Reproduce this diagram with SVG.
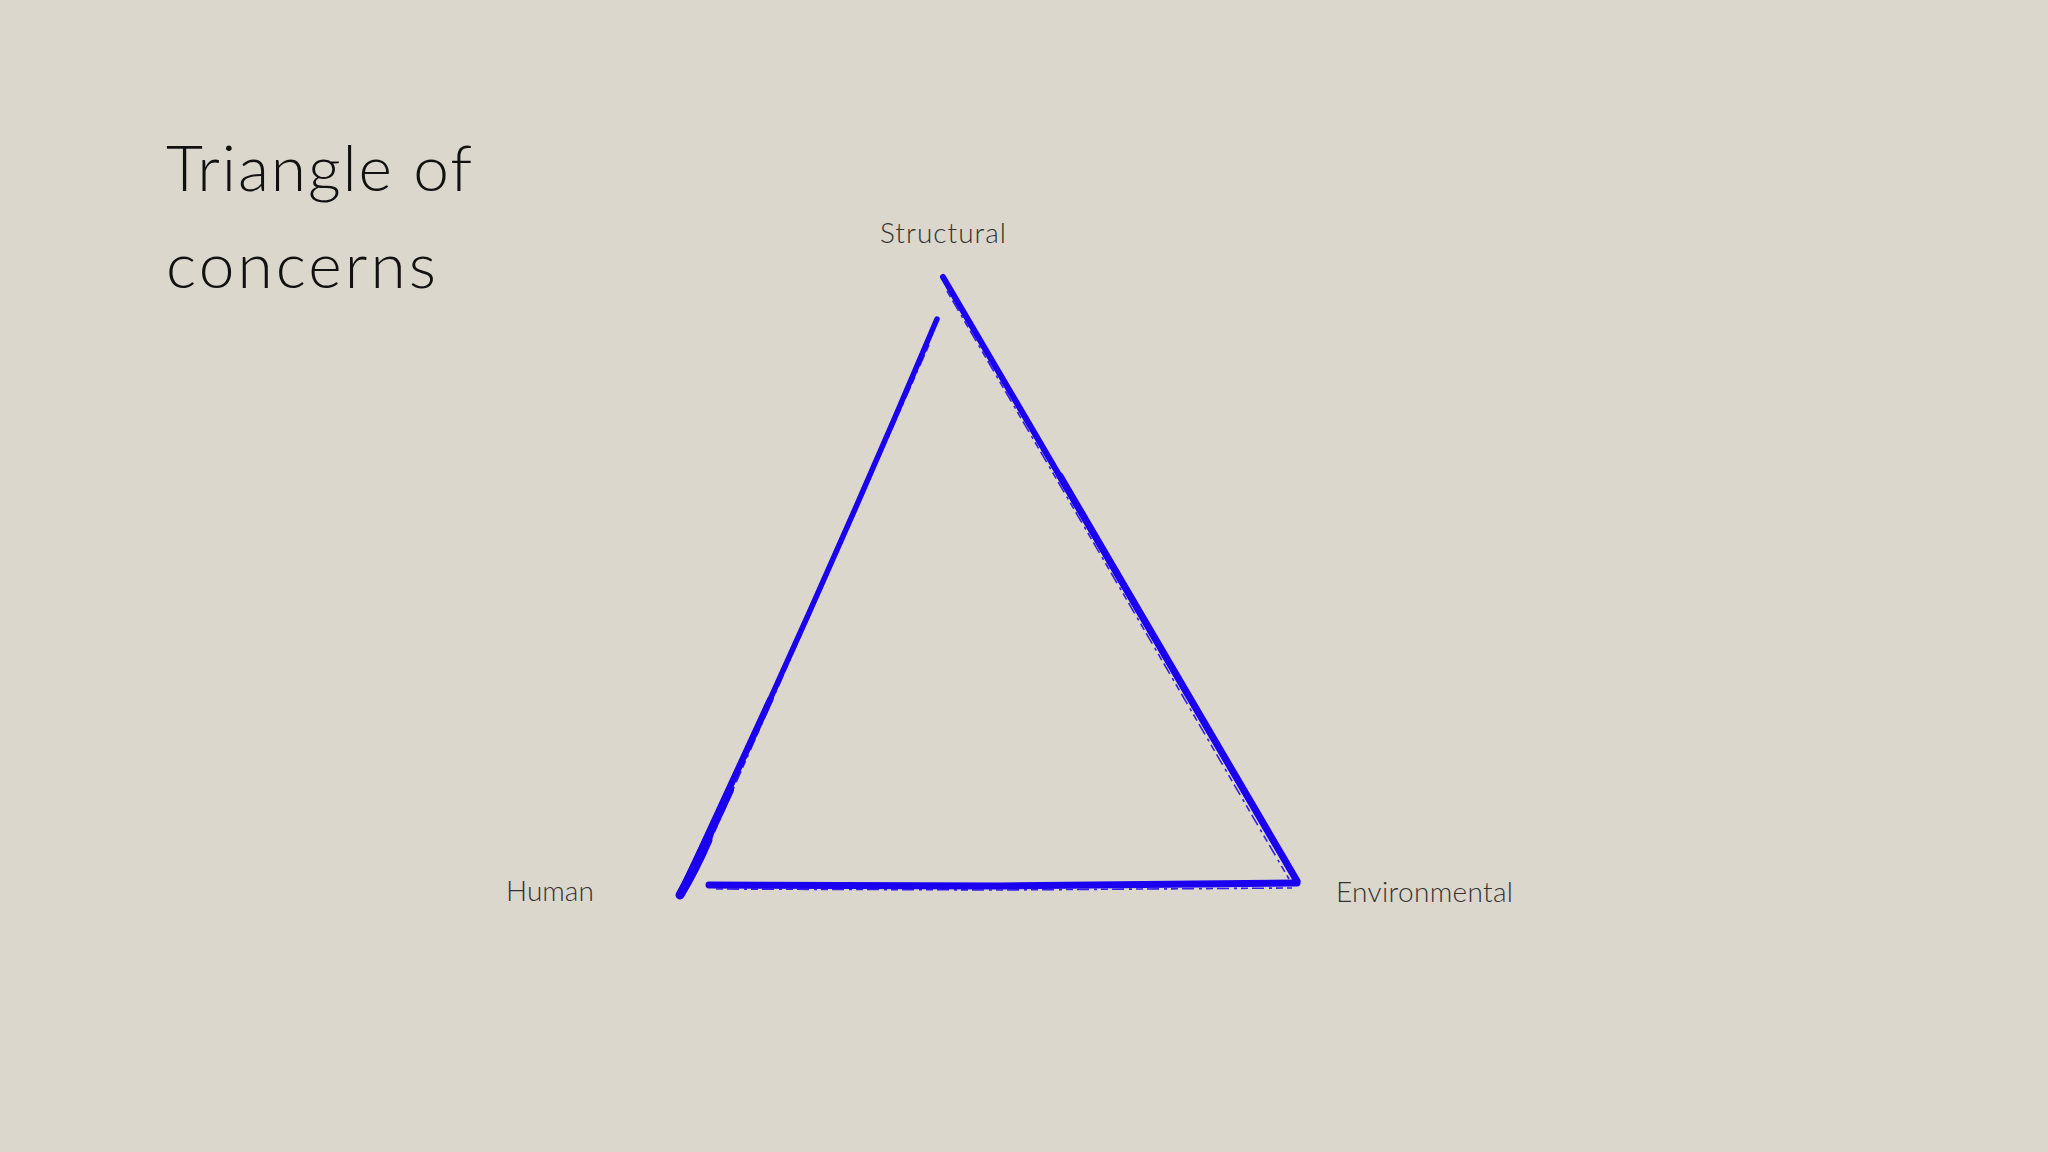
<svg xmlns="http://www.w3.org/2000/svg" width="2048" height="1152" viewBox="0 0 2048 1152">
  <style>
    .title { font-family: Lato, "Liberation Sans", sans-serif; font-weight: 300; font-size: 64px; fill: #111; }
    .label { font-family: Lato, "Liberation Sans", sans-serif; font-weight: 300; font-size: 28px; fill: #333; }
    .stroke { fill: none; stroke: #1a00ee; stroke-linecap: round; stroke-linejoin: round; }
    .rough { fill: none; stroke: #1a00ee; stroke-width: 1.6; stroke-dasharray: 7 4 12 5 3 4; opacity: 0.85; }
  </style>
  <rect width="2048" height="1152" fill="#dbd7cd"/>
  <g id="title">
    <text class="title" x="166" y="191" textLength="306" lengthAdjust="spacing">Triangle of</text>
    <text class="title" x="166" y="288" textLength="270" lengthAdjust="spacing">concerns</text>
  </g>
  <g id="connectors">
    <path class="stroke" stroke-width="5.5" d="M937,319 Q818,600 680,895"/>
    <path class="stroke" stroke-width="6.5" d="M770,700 Q724,800 680,895"/>
    <path class="stroke" stroke-width="8" d="M730,790 Q705,845 680,895"/>
    <path class="stroke" stroke-width="9" d="M708,840 Q695,870 680,895"/>
    <path class="rough" d="M929,345 Q816,600 703,858"/>
    <path class="stroke" stroke-width="6" d="M943,277 L1297,881"/>
    <path class="stroke" stroke-width="7" d="M1060,476 L1297,881"/>
    <path class="rough" d="M947,291 L1117,583 L1289,879"/>
    <path class="stroke" stroke-width="7" d="M709,885 L1000,886 L1297,883"/>
    <path class="rough" d="M716,889 L1000,890 L1292,888"/>
  </g>
  <g id="node-structural">
    <text class="label" x="880" y="243" textLength="126" lengthAdjust="spacing">Structural</text>
  </g>
  <g id="node-human">
    <text class="label" x="506" y="901">Human</text>
  </g>
  <g id="node-environmental">
    <text class="label" x="1336" y="902" textLength="177" lengthAdjust="spacing">Environmental</text>
  </g>
</svg>
